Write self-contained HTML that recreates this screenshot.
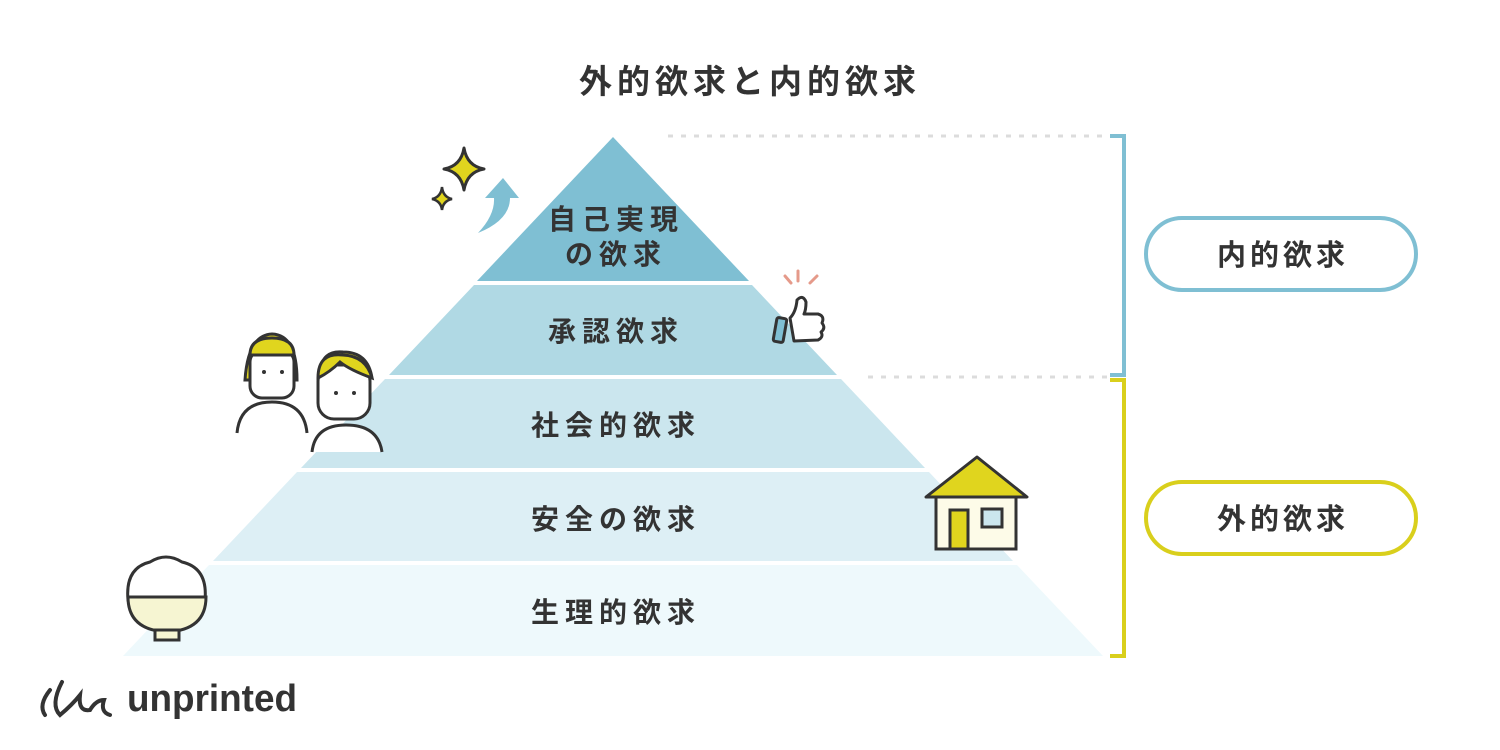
<!DOCTYPE html>
<html><head><meta charset="utf-8"><style>
html,body{margin:0;padding:0;background:#fff;}
svg{display:block;}
text{font-family:"Liberation Sans","Noto Sans CJK JP",sans-serif;font-weight:700;fill:#333;}
</style></head><body>
<svg width="1500" height="750" viewBox="0 0 1500 750" xmlns="http://www.w3.org/2000/svg">
<text x="750" y="93" text-anchor="middle" font-size="33" letter-spacing="5">外的欲求と内的欲求</text>
<polygon points="613,137 749,281 477,281" fill="#7fbfd3"/>
<polygon points="474,285 752,285 837,375 389,375" fill="#b0d9e4"/>
<polygon points="385,379 841,379 925,468 301,468" fill="#cbe6ee"/>
<polygon points="297,472 929,472 1013,561 213,561" fill="#ddeff5"/>
<polygon points="209,565 1017,565 1103,656 123,656" fill="#eef9fc"/>
<g font-size="28" text-anchor="middle" letter-spacing="6">
<text x="616" y="229">自己実現</text>
<text x="616" y="264">の欲求</text>
<text x="616" y="341">承認欲求</text>
<text x="616" y="435">社会的欲求</text>
<text x="616" y="529">安全の欲求</text>
<text x="616" y="622">生理的欲求</text>
</g>
<line x1="668" y1="136" x2="1108" y2="136" stroke="#dcdcdc" stroke-width="3" stroke-dasharray="5,8"/>
<line x1="868" y1="377" x2="1108" y2="377" stroke="#dcdcdc" stroke-width="3" stroke-dasharray="5,8"/>
<path d="M1110,136 H1124 V375 H1110" fill="none" stroke="#7fbfd3" stroke-width="4"/>
<path d="M1110,380 H1124 V656 H1110" fill="none" stroke="#d9cf1c" stroke-width="4"/>
<rect x="1146" y="218" width="270" height="72" rx="36" fill="#fff" stroke="#7fbfd3" stroke-width="4"/>
<rect x="1146" y="482" width="270" height="72" rx="36" fill="#fff" stroke="#d9cf1c" stroke-width="4"/>
<text x="1283" y="265" font-size="29" text-anchor="middle" letter-spacing="4">内的欲求</text>
<text x="1283" y="529" font-size="29" text-anchor="middle" letter-spacing="4">外的欲求</text>
<path d="M464,148 Q467,166 484,169 Q467,172 464,190 Q461,172 444,169 Q461,166 464,148Z" fill="#e0d51e" stroke="#333" stroke-width="3" stroke-linejoin="round"/>
<path d="M442,187 Q443,197 452,199 Q443,201 442,210 Q441,201 432,199 Q441,197 442,187Z" fill="#e0d51e" stroke="#333" stroke-width="2.5"/>
<path d="M478,233 Q495,215 494,198 L485,198 L503,178 L519,198 L510,198 Q510,220 478,233Z" fill="#7fbfd3"/>
<g stroke="#e59a8a" stroke-width="3" stroke-linecap="round"><line x1="798" y1="271" x2="798" y2="281"/><line x1="785" y1="276" x2="791" y2="283"/><line x1="817" y1="276" x2="810" y2="283"/></g>
<rect x="775" y="318" width="10" height="24" rx="2" transform="rotate(10 780 330)" fill="#7fbfd3" stroke="#333" stroke-width="3"/>
<path d="M790,318 Q796,312 797,300 Q803,294 806,302 Q806,310 804,314 L818,314 Q825,316 822,323 Q826,328 821,332 Q824,337 818,340 L794,341 Z" fill="#fff" stroke="#333" stroke-width="3" stroke-linejoin="round"/>
<g stroke="#333" stroke-width="3" fill="#fff">
<path d="M245,380 Q248,335 272,334 Q297,335 297,380 Z" fill="#e0d51e"/>
<rect x="250" y="350" width="44" height="48" rx="12"/>
<path d="M250,355 Q250,338 272,338 Q294,338 294,355 Z" fill="#e0d51e"/>
<path d="M237,433 Q240,402 272,402 Q304,402 307,433"/>
<path d="M320,372 Q322,350 343,352 Q368,352 372,378 L320,378Z" fill="#e0d51e"/>
<rect x="318" y="365" width="52" height="54" rx="16"/>
<path d="M318,378 Q318,352 343,355 Q366,356 372,378 Q350,370 340,362 Q330,372 318,378Z" fill="#e0d51e"/>
<path d="M312,452 Q315,425 346,425 Q378,425 382,452"/>
</g>
<g fill="#333"><circle cx="264" cy="372" r="2"/><circle cx="282" cy="372" r="2"/><circle cx="336" cy="393" r="2"/><circle cx="354" cy="393" r="2"/></g>
<g stroke="#333" stroke-width="3">
<rect x="936" y="497" width="80" height="52" fill="#fdfbe8"/>
<polygon points="977,457 1027,497 926,497" fill="#e0d51e" stroke-linejoin="round"/>
<rect x="950" y="510" width="18" height="39" fill="#e0d51e"/>
<rect x="982" y="509" width="20" height="18" fill="#cbe6ee"/>
</g>
<g stroke="#333" stroke-width="3">
<path d="M128,600 Q125,568 150,562 Q166,552 182,562 Q208,568 205,600 Z" fill="#fff"/>
<path d="M128,597 H206 Q206,630 167,632 Q128,630 128,597 Z" fill="#f6f5d2"/>
<rect x="155" y="630" width="24" height="10" fill="#f6f5d2"/>
</g>
<path d="M50,690 Q38,705 45,715 M62,682 Q50,705 60,715 Q72,705 80,695 Q78,712 90,710 Q96,700 104,700 Q100,712 110,715" fill="none" stroke="#333" stroke-width="4" stroke-linecap="round"/>
<text x="127" y="711" font-size="38" textLength="170" lengthAdjust="spacingAndGlyphs">unprinted</text>
</svg>
</body></html>
